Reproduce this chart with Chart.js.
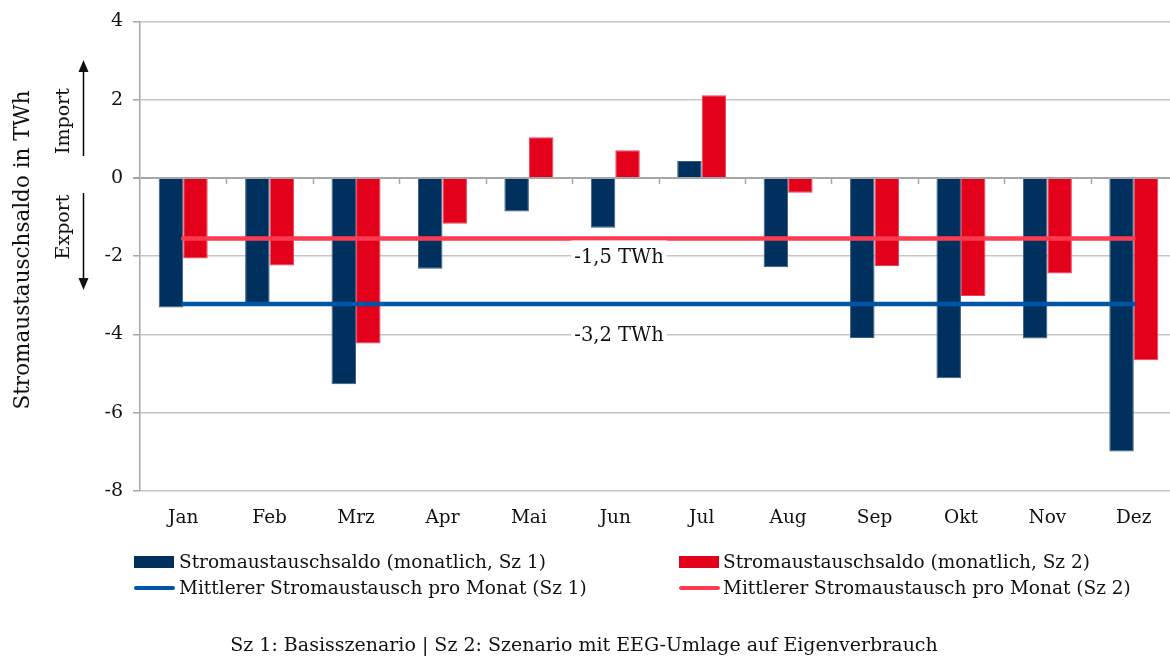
<!DOCTYPE html>
<html><head><meta charset="utf-8">
<script src="https://cdn.jsdelivr.net/npm/chart.js@4.4.1/dist/chart.umd.min.js"></script>
<style>
html,body{margin:0;padding:0;background:#fff;overflow:hidden;width:1170px;height:657px;}
#wrap{position:relative;width:1177px;height:657px;}
#c{position:absolute;left:0;top:0;}
.t{position:absolute;font-family:'DejaVu Serif',serif;font-size:18.5px;color:#111;white-space:nowrap;line-height:22px;}
.sw{position:absolute;}
</style></head>
<body>
<div id="wrap">
<canvas id="c" width="1177" height="657"></canvas>
<div id="legend"></div>
<div class="t" id="foot" style="left:0;width:1168px;text-align:center;top:633px;font-size:19px;"></div>
</div>
<script>
const categories = ['Jan','Feb','Mrz','Apr','Mai','Jun','Jul','Aug','Sep','Okt','Nov','Dez'];
const saldoSz1 = [-3.31,-3.26,-5.27,-2.32,-0.86,-1.27,0.43,-2.28,-4.09,-5.12,-4.10,-6.99];
const saldoSz2 = [-2.06,-2.24,-4.23,-1.17,1.04,0.71,2.11,-0.38,-2.25,-3.02,-2.44,-4.66];
const meanSz1 = -3.22;
const meanSz2 = -1.55;
const meanLabelSz1 = '-3,2 TWh';
const meanLabelSz2 = '-1,5 TWh';
const yMin = -8, yMax = 4, yStep = 2;
const seriesNames = [
  'Stromaustauschsaldo (monatlich, Sz 1)',
  'Stromaustauschsaldo (monatlich, Sz 2)',
  'Mittlerer Stromaustausch pro Monat (Sz 1)',
  'Mittlerer Stromaustausch pro Monat (Sz 2)'
];
const axisTitle = 'Stromaustauschsaldo in TWh';
const importText = 'Import';
const exportText = 'Export';
const footerText = 'Sz 1: Basisszenario | Sz 2: Szenario mit EEG-Umlage auf Eigenverbrauch';

const C_S1 = '#00305E', C_S2 = '#E2001A', C_M1 = '#0055A5', C_M2 = '#FF3B52';
const FONT = "'DejaVu Serif', serif";

Chart.defaults.font.family = FONT;
Chart.defaults.font.size = 18.5;
Chart.defaults.color = '#111';

const annot = {
  id: 'annot',
  afterDatasetsDraw(chart) {
    const {ctx, chartArea, scales: {x, y}} = chart;
    const y0 = y.getPixelForValue(0);
    const w = (chartArea.right - chartArea.left) / categories.length;
    ctx.save();
    ctx.strokeStyle = '#A6A6A6';
    ctx.lineWidth = 1.5;
    for (let i = 1; i <= categories.length; i++) {
      const xp = Math.round(chartArea.left + i * w) + 0.5;
      ctx.beginPath(); ctx.moveTo(xp, y0); ctx.lineTo(xp, y0 + 6); ctx.stroke();
    }
    ctx.font = '19.5px ' + FONT;
    ctx.textAlign = 'center';
    ctx.textBaseline = 'middle';
    const cx = 619;
    [[meanLabelSz2, -2.02], [meanLabelSz1, -4.0]].forEach(([txt, v]) => {
      const cy = y.getPixelForValue(v);
      const tw = ctx.measureText(txt).width;
      ctx.fillStyle = '#fff';
      ctx.fillRect(cx - tw / 2 - 3, cy - 16.5, tw + 6, 31);
      ctx.fillStyle = '#111';
      ctx.fillText(txt, cx, cy + 1);
    });
    ctx.restore();
  },
  afterDraw(chart) {
    const {ctx} = chart;
    ctx.save();
    ctx.fillStyle = '#111';
    ctx.textAlign = 'center';
    ctx.textBaseline = 'middle';
    ctx.font = '21.5px ' + FONT;
    ctx.save(); ctx.translate(23, 250); ctx.rotate(-Math.PI / 2); ctx.fillText(axisTitle, 0, 0); ctx.restore();
    ctx.font = '19px ' + FONT;
    ctx.save(); ctx.translate(64, 121); ctx.rotate(-Math.PI / 2); ctx.fillText(importText, 0, 0); ctx.restore();
    ctx.save(); ctx.translate(64, 227); ctx.rotate(-Math.PI / 2); ctx.fillText(exportText, 0, 0); ctx.restore();
    ctx.strokeStyle = '#000'; ctx.lineWidth = 1.5;
    const ax = 83.5;
    ctx.beginPath(); ctx.moveTo(ax, 156); ctx.lineTo(ax, 70); ctx.stroke();
    ctx.beginPath(); ctx.moveTo(ax, 60); ctx.lineTo(ax - 5, 72); ctx.lineTo(ax + 5, 72); ctx.closePath(); ctx.fill();
    ctx.beginPath(); ctx.moveTo(ax, 193); ctx.lineTo(ax, 280); ctx.stroke();
    ctx.beginPath(); ctx.moveTo(ax, 290); ctx.lineTo(ax - 5, 278); ctx.lineTo(ax + 5, 278); ctx.closePath(); ctx.fill();
    ctx.restore();
  }
};

const chart = new Chart(document.getElementById('c'), {
  type: 'bar',
  data: {
    labels: categories,
    datasets: [
      {type: 'bar', label: seriesNames[0], data: saldoSz1, backgroundColor: C_S1, borderColor: '#3E5A7E', borderWidth: 1, order: 2,
       categoryPercentage: 0.567, barPercentage: 1.0},
      {type: 'bar', label: seriesNames[1], data: saldoSz2, backgroundColor: C_S2, borderColor: '#EC3F55', borderWidth: 1, order: 2,
       categoryPercentage: 0.567, barPercentage: 1.0},
      {type: 'line', label: seriesNames[2], data: [{x: categories[0], y: meanSz1}, {x: categories[categories.length - 1], y: meanSz1}],
       borderColor: C_M1, backgroundColor: C_M1, borderWidth: 4.5, pointRadius: 0, borderCapStyle: 'round', order: 0},
      {type: 'line', label: seriesNames[3], data: [{x: categories[0], y: meanSz2}, {x: categories[categories.length - 1], y: meanSz2}],
       borderColor: C_M2, backgroundColor: C_M2, borderWidth: 4.5, pointRadius: 0, borderCapStyle: 'round', order: 0}
    ]
  },
  options: {
    responsive: false,
    animation: false,
    devicePixelRatio: 1,
    layout: {padding: {left: 0, right: 0, top: 9, bottom: 0}},
    plugins: {legend: {display: false}, tooltip: {enabled: false}},
    scales: {
      x: {
        grid: {display: false, drawTicks: false},
        border: {display: false},
        ticks: {padding: 16, font: {size: 18.5}, color: '#111'},
        afterFit(s) { s.height = 166; }
      },
      y: {
        min: yMin, max: yMax,
        ticks: {stepSize: yStep, padding: 10, font: {size: 19}, color: '#111', callback: v => String(v)},
        grid: {
          color: c => (c.tick && c.tick.value === 0) ? '#A6A6A6' : '#C6C6C6',
          lineWidth: c => (c.tick && c.tick.value === 0) ? 2 : 1.5,
          tickColor: '#A6A6A6', tickLength: 7
        },
        border: {display: true, color: '#A6A6A6', width: 1.5},
        afterFit(s) { s.width = 140; }
      }
    }
  },
  plugins: [annot]
});

const legend = document.getElementById('legend');
const pos = [
  {sx: 134, tx: 179, cy: 562, kind: 'box'},
  {sx: 679, tx: 723, cy: 562, kind: 'box'},
  {sx: 134, tx: 179, cy: 588, kind: 'line'},
  {sx: 679, tx: 723, cy: 588, kind: 'line'}
];
chart.data.datasets.forEach((ds, i) => {
  const p = pos[i];
  const sw = document.createElement('div');
  sw.className = 'sw';
  if (p.kind === 'box') {
    sw.style.cssText = `left:${p.sx}px;top:${p.cy - 6}px;width:40px;height:12px;background:${ds.backgroundColor};`;
  } else {
    sw.style.cssText = `left:${p.sx}px;top:${p.cy - 2.25}px;width:41px;height:4.5px;border-radius:2.5px;background:${ds.borderColor};`;
  }
  legend.appendChild(sw);
  const t = document.createElement('div');
  t.className = 't';
  t.style.left = p.tx + 'px';
  t.style.top = (p.cy - 11) + 'px';
  t.textContent = ds.label;
  legend.appendChild(t);
});
document.getElementById('foot').textContent = footerText;
</script>
</body></html>
